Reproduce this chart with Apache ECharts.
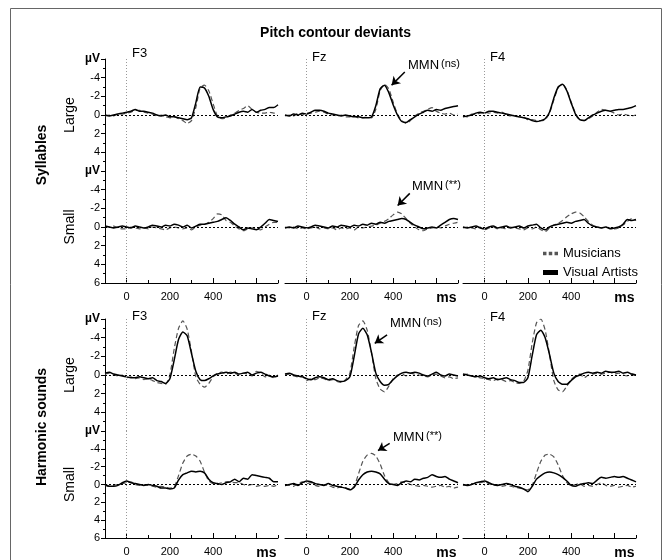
<!DOCTYPE html>
<html>
<head>
<meta charset="utf-8">
<title>Pitch contour deviants</title>
<script src="https://cdn.jsdelivr.net/npm/echarts@6/dist/echarts.min.js"></script>
<style>
  html, body { margin: 0; padding: 0; background: #fff; }
  #chart { width: 671px; height: 560px; }
</style>
</head>
<body>
<div id="chart"></div>
<script>
// sample times in ms
var times = [-100,-80,-60,-40,-20,0,20,40,60,80,100,120,140,160,180,200,220,240,260,280,300,
  320,340,360,380,400,420,440,460,480,500,520,540,560,580,600,620,640,660,680,700];

// amplitudes in µV (negative is drawn upwards)
// Syllables - Large
var sylLargeF3_va  = [0.0,0.1,0.0,-0.1,-0.2,-0.3,-0.4,-0.6,-0.4,-0.4,-0.3,-0.2,0.0,0.1,0.0,0.2,0.2,0.3,0.4,0.5,0.3,-1.3,-3.0,-2.9,-2.0,-0.6,0.2,0.3,0.2,0.1,-0.1,-0.3,-0.4,-0.3,-0.6,-0.3,-0.5,-0.6,-0.8,-0.8,-1.1];
var sylLargeF3_mus = [0.1,0.0,0.1,-0.1,-0.1,-0.2,-0.3,-0.5,-0.5,-0.3,-0.2,-0.1,0.1,0.0,0.2,0.3,0.2,0.4,0.6,0.9,0.6,-0.8,-2.9,-3.2,-2.6,-1.2,0.1,0.4,0.3,0.0,-0.2,-0.5,-0.7,-1.0,-0.6,-0.3,-0.2,-0.2,-0.3,-0.2,-0.2];
var sylLargeFz_va  = [0.0,0.1,-0.1,0.0,-0.2,-0.1,-0.3,-0.5,-0.5,-0.4,-0.2,-0.1,0.0,0.1,0.0,0.1,0.2,0.2,0.3,0.3,0.2,-1.0,-2.8,-3.2,-2.4,-1.1,0.0,0.7,0.8,0.5,0.2,-0.1,-0.3,-0.5,-0.4,-0.6,-0.5,-0.7,-0.8,-0.9,-1.0];
var sylLargeFz_mus = [0.1,0.0,0.1,-0.2,0.0,-0.2,-0.2,-0.3,-0.4,-0.3,-0.1,0.0,0.1,0.0,0.2,0.2,0.1,0.3,0.3,0.2,0.3,-0.6,-2.6,-3.3,-2.8,-1.4,-0.1,0.6,0.9,0.6,0.1,-0.2,-0.4,-0.6,-0.8,-0.4,-0.2,-0.1,-0.2,0.0,-0.1];
var sylLargeF4_va  = [0.2,0.1,0.0,-0.2,-0.3,-0.2,-0.4,-0.4,-0.3,-0.2,-0.1,0.0,0.1,0.2,0.3,0.4,0.6,0.7,0.6,0.4,-0.3,-1.8,-3.0,-3.3,-2.6,-1.3,-0.1,0.5,0.6,0.3,0.0,-0.2,-0.4,-0.5,-0.4,-0.5,-0.6,-0.6,-0.7,-0.8,-1.0];
var sylLargeF4_mus = [0.1,0.2,-0.1,-0.1,-0.2,-0.3,-0.2,-0.3,-0.2,-0.3,0.0,0.1,0.0,0.2,0.2,0.5,0.5,0.6,0.6,0.5,-0.2,-1.6,-2.9,-3.3,-2.7,-1.4,-0.2,0.5,0.6,0.4,0.1,-0.3,-0.6,-0.5,-0.4,-0.2,0.0,-0.1,0.0,0.1,0.0];
// Syllables - Small
var sylSmallF3_va  = [-0.1,0.0,0.1,0.0,-0.1,0.0,0.1,-0.1,0.0,0.1,0.0,-0.2,-0.1,0.0,-0.2,-0.1,-0.3,-0.2,0.0,-0.2,0.1,-0.1,-0.3,-0.3,-0.4,-0.5,-0.6,-0.8,-1.0,-0.7,-0.3,0.0,0.3,0.1,0.2,0.3,0.0,-0.4,-0.8,-0.7,-0.6];
var sylSmallF3_mus = [0.0,0.0,-0.1,0.1,0.2,0.2,0.0,0.1,0.2,0.1,0.2,0.0,0.1,0.2,0.3,0.1,0.0,0.1,0.2,0.1,0.3,0.0,-0.2,-0.3,-0.5,-0.9,-1.4,-1.3,-0.7,-0.5,-0.1,0.2,0.4,0.2,0.1,0.2,0.3,0.0,-0.3,-0.5,-0.5];
var sylSmallFz_va  = [0.1,0.0,0.1,-0.1,0.0,0.1,0.0,-0.2,-0.1,0.0,0.1,-0.1,0.0,-0.2,-0.1,0.0,-0.2,-0.1,-0.3,-0.2,-0.4,-0.3,-0.5,-0.4,-0.6,-0.7,-0.8,-0.9,-0.8,-0.5,-0.2,0.0,0.2,0.1,0.0,0.1,-0.2,-0.5,-0.8,-0.9,-0.8];
var sylSmallFz_mus = [0.0,0.1,0.0,0.2,0.1,0.2,0.1,0.0,0.2,0.1,0.2,0.1,0.3,0.1,0.2,0.1,0.3,0.0,0.1,0.0,-0.1,-0.2,-0.4,-0.6,-0.9,-1.3,-1.6,-1.4,-0.9,-0.4,0.0,0.3,0.4,0.2,0.1,0.0,0.1,-0.1,-0.3,-0.4,-0.5];
var sylSmallF4_va  = [0.0,0.1,0.0,-0.1,0.1,0.2,0.0,-0.1,0.1,0.0,-0.1,0.1,0.0,-0.1,0.1,-0.1,-0.2,-0.3,0.1,0.3,0.0,-0.2,-0.3,-0.4,-0.5,-0.4,-0.6,-0.7,-0.8,-0.4,-0.1,0.0,0.1,0.0,0.2,0.1,0.0,-0.3,-0.8,-0.7,-0.8];
var sylSmallF4_mus = [0.1,0.0,0.1,0.2,0.0,0.3,0.1,0.0,0.2,0.1,0.2,0.0,0.1,0.2,0.3,0.1,0.2,0.0,0.3,0.5,0.1,-0.2,-0.4,-0.7,-1.1,-1.4,-1.6,-1.5,-1.1,-0.6,-0.2,0.0,0.1,0.0,0.1,0.2,0.1,-0.2,-0.6,-0.9,-0.7];
// Harmonic sounds - Large
var harLargeF3_va  = [-0.2,-0.3,-0.1,0.0,0.1,0.2,0.3,0.3,0.2,0.3,0.4,0.3,0.6,0.7,0.9,0.4,-1.6,-3.8,-4.6,-4.2,-2.3,-0.4,0.5,0.6,0.4,0.1,-0.1,-0.2,-0.3,-0.2,-0.3,-0.1,-0.2,-0.3,0.0,-0.2,-0.3,-0.1,0.1,0.2,0.1];
var harLargeF3_mus = [-0.1,-0.2,0.0,0.1,0.0,0.3,0.2,0.4,0.3,0.5,0.4,0.6,0.8,0.9,1.0,0.0,-2.8,-5.0,-5.8,-4.9,-2.5,0.2,1.0,1.3,0.9,0.2,-0.2,-0.3,-0.1,-0.3,-0.2,0.0,-0.2,-0.1,0.1,-0.4,-0.2,0.2,0.0,0.3,0.0];
var harLargeFz_va  = [-0.1,-0.2,0.0,0.1,0.2,0.4,0.5,0.3,0.2,0.3,0.5,0.4,0.6,0.7,0.6,0.2,-2.0,-4.4,-5.0,-4.3,-2.4,-0.2,0.7,1.1,1.0,0.5,0.1,-0.2,-0.3,-0.2,-0.3,-0.2,0.0,0.1,-0.1,-0.3,0.0,0.1,-0.1,0.0,0.1];
var harLargeFz_mus = [0.0,-0.1,0.1,0.2,0.1,0.6,0.4,0.5,0.3,0.4,0.6,0.5,0.7,0.8,0.5,-0.2,-3.0,-5.3,-5.8,-4.8,-2.4,0.4,1.5,1.8,1.2,0.4,0.0,-0.1,0.1,-0.2,-0.1,0.0,0.1,0.2,0.0,-0.1,0.1,0.3,0.2,0.4,0.3];
var harLargeF4_va  = [-0.1,0.0,0.1,0.2,0.1,0.3,0.4,0.3,0.5,0.4,0.3,0.5,0.6,0.8,0.8,0.3,-2.1,-4.3,-4.8,-4.0,-2.2,-0.2,0.7,1.0,1.0,0.6,0.2,0.0,-0.2,-0.3,-0.2,-0.3,-0.2,-0.4,-0.3,-0.3,-0.4,-0.2,-0.3,-0.1,0.0];
var harLargeF4_mus = [0.0,-0.1,0.1,0.2,0.3,0.4,0.5,0.6,0.4,0.5,0.7,0.6,0.8,0.9,0.7,-0.5,-3.4,-5.6,-6.0,-4.8,-2.2,0.6,1.6,1.8,1.2,0.5,0.1,-0.1,0.3,0.0,-0.1,-0.2,-0.1,-0.2,-0.3,-0.1,-0.2,0.0,0.1,-0.1,0.1];
// Harmonic sounds - Small
var harSmallF3_va  = [0.0,0.2,0.2,0.1,-0.2,-0.4,-0.2,-0.1,0.0,0.1,0.0,0.1,0.2,0.4,0.4,0.5,0.4,-0.5,-1.1,-1.3,-1.5,-1.4,-1.5,-1.3,-0.6,-0.2,-0.1,0.0,-0.2,-0.3,-0.6,-0.3,-0.7,-0.6,-1.1,-1.0,-0.9,-0.8,-0.7,-0.3,-0.3];
var harSmallF3_mus = [0.1,0.2,0.1,0.0,-0.1,-0.2,-0.3,0.0,0.1,0.0,0.1,0.2,0.3,0.2,0.3,0.4,0.3,-1.0,-2.4,-3.2,-3.4,-3.2,-2.6,-1.4,-0.4,-0.1,-0.1,-0.2,-0.3,-0.3,-0.2,-0.2,0.0,0.1,0.0,0.2,0.1,0.2,0.1,0.2,0.0];
var harSmallFz_va  = [0.1,0.0,-0.1,0.1,-0.2,-0.4,-0.3,-0.1,0.0,0.1,-0.1,0.1,0.2,0.3,0.4,0.6,0.3,-0.5,-1.1,-1.4,-1.5,-1.4,-1.2,-0.6,-0.1,0.0,0.1,-0.2,-0.4,-0.3,-0.6,-0.5,-0.7,-0.8,-1.1,-0.9,-0.8,-0.9,-0.6,-0.4,-0.2];
var harSmallFz_mus = [0.0,0.1,0.2,-0.1,-0.3,-0.1,-0.2,0.1,0.2,0.0,0.1,0.3,0.4,0.2,0.4,0.5,0.2,-1.2,-2.6,-3.3,-3.5,-3.2,-2.3,-1.0,-0.2,0.0,-0.1,-0.3,-0.2,0.0,0.1,0.2,0.1,0.2,0.3,0.2,0.1,0.3,0.2,0.4,0.3];
var harSmallF4_va  = [0.0,0.1,0.0,-0.2,-0.3,-0.4,-0.2,0.0,0.1,0.0,-0.1,0.0,0.2,0.3,0.5,0.8,0.2,-0.6,-1.0,-1.3,-1.4,-1.3,-1.1,-0.8,-0.4,0.1,0.2,0.0,-0.1,-0.2,-0.1,-0.5,-0.8,-0.7,-0.8,-0.9,-0.8,-0.9,-0.7,-0.5,-0.3];
var harSmallF4_mus = [0.1,0.0,-0.1,-0.1,-0.2,-0.3,-0.1,0.1,0.0,0.2,0.1,0.2,0.3,0.4,0.5,0.6,0.1,-1.3,-2.6,-3.3,-3.4,-3.1,-2.2,-1.0,-0.2,0.1,0.0,-0.1,0.2,0.1,0.2,0.0,-0.2,0.1,0.2,0.1,0.3,0.2,0.1,0.3,0.2];

var electrodes = ['F3', 'Fz', 'F4'];
var rowNames = ['Large', 'Small', 'Large', 'Small'];
var xLabelTicks = [0, 200, 400, 600];
var xMinorTicks = [100, 300, 500, 700];
// MMN arrows on the Fz panels: [tail ms, tail µV, head ms, head µV]
var mmnArrows = [[454, -4.6, 393, -3.2], [477, -3.6, 421, -2.3], [372, -4.3, 315, -3.4], [384, -4.6, 330, -3.8]];
var mmnSig = ['(ns)', '(**)', '(ns)', '(**)'];

var panelVA = [
  [sylLargeF3_va, sylLargeFz_va, sylLargeF4_va],
  [sylSmallF3_va, sylSmallFz_va, sylSmallF4_va],
  [harLargeF3_va, harLargeFz_va, harLargeF4_va],
  [harSmallF3_va, harSmallFz_va, harSmallF4_va]
];
var panelMus = [
  [sylLargeF3_mus, sylLargeFz_mus, sylLargeF4_mus],
  [sylSmallF3_mus, sylSmallFz_mus, sylSmallF4_mus],
  [harLargeF3_mus, harLargeFz_mus, harLargeF4_mus],
  [harSmallF3_mus, harSmallFz_mus, harSmallF4_mus]
];

var FONT = 'Liberation Sans, Arial, sans-serif';
var colLeft = [105, 285, 463];
var colW = 173;
var rowTop = [59, 171, 319, 431];
var rowH = 112;

function pairs(vals) {
  return times.map(function (t, i) { return [t, vals[i]]; });
}

var grids = [], xAxes = [], yAxes = [], series = [];

for (var r = 0; r < 4; r++) {
  for (var c = 0; c < 3; c++) {
    var g = grids.length;
    var small = (r % 2 === 1);
    grids.push({ left: colLeft[c], top: rowTop[r], width: colW, height: rowH });

    yAxes.push({
      gridIndex: g, type: 'value', min: -6, max: 6, interval: 2, inverse: true,
      show: c === 0,
      axisLine: { show: true, onZero: false, lineStyle: { color: '#000', width: 1 } },
      axisTick: { show: true, length: 4, lineStyle: { color: '#000' } },
      minorTick: { show: true, splitNumber: 2, length: 2, lineStyle: { color: '#000' } },
      splitLine: { show: false },
      axisLabel: {
        fontSize: 11, color: '#000', margin: 5, fontFamily: FONT,
        formatter: (function (sm) {
          return function (v) {
            if (v === -6) return '{u|µV}';
            if (v === 6) return sm ? '6' : '';
            return String(v);
          };
        })(small),
        rich: { u: { fontWeight: 'bold', fontSize: 12, fontFamily: FONT } }
      },
      name: rowNames[r], nameLocation: 'middle', nameRotate: 90, nameGap: 28,
      nameTextStyle: { fontSize: 14, color: '#000', fontFamily: FONT }
    });

    var xi = xAxes.length;
    xAxes.push({
      gridIndex: g, type: 'value', min: -100, max: 700, interval: 100,
      show: small, position: 'bottom',
      axisLine: { onZero: false, lineStyle: { color: '#000', width: 1 } },
      axisTick: { inside: true, length: 5, customValues: xLabelTicks, lineStyle: { color: '#000' } },
      axisLabel: {
        customValues: xLabelTicks, fontSize: 11, color: '#000', margin: 8, fontFamily: FONT,
        formatter: function (v) { return v === 600 ? '{ms|ms}' : String(v); },
        rich: { ms: { fontWeight: 'bold', fontSize: 14, padding: [0, 0, 0, 20], fontFamily: FONT } }
      },
      splitLine: { show: false }
    });
    if (small) {
      xAxes.push({
        gridIndex: g, type: 'value', min: -100, max: 700, interval: 100, position: 'bottom',
        axisLine: { show: false, onZero: false },
        axisTick: { inside: true, length: 3, customValues: xMinorTicks, lineStyle: { color: '#000' } },
        axisLabel: { show: false },
        splitLine: { show: false }
      });
    }

    var marks = [
      { yAxis: 0, lineStyle: { color: '#000', type: [2, 2], width: 1 } },
      { xAxis: 0, lineStyle: { color: '#999', type: [1, 2], width: 1 } }
    ];
    if (c === 1) {
      var a = mmnArrows[r];
      marks.push([
        { coord: [a[0], a[1]], symbol: 'none', lineStyle: { color: '#000', width: 1.5, type: 'solid' } },
        { coord: [a[2], a[3]], symbol: 'arrow', symbolSize: 8, lineStyle: { color: '#000', width: 1.5, type: 'solid' } }
      ]);
    }

    series.push({
      type: 'line', name: 'Musicians', xAxisIndex: xi, yAxisIndex: g,
      data: pairs(panelMus[r][c]), showSymbol: false, smooth: 0.2, silent: true,
      lineStyle: { color: '#555', width: 1.2, type: [5, 3] }, itemStyle: { color: '#555' }
    });
    series.push({
      type: 'line', name: 'Visual Artists', xAxisIndex: xi, yAxisIndex: g,
      data: pairs(panelVA[r][c]), showSymbol: false, smooth: 0.2, silent: true,
      lineStyle: { color: '#000', width: 1.5 }, itemStyle: { color: '#000' },
      markLine: { silent: true, symbol: 'none', label: { show: false }, animation: false, data: marks }
    });
  }
}

var graphics = [
  { type: 'rect', shape: { x: 10.5, y: 8.5, width: 651, height: 560 }, style: { fill: 'none', stroke: '#666', lineWidth: 1 } },
  { type: 'text', x: 42, y: 155, rotation: Math.PI / 2,
    style: { text: 'Syllables', font: 'bold 14px ' + FONT, fill: '#000', align: 'center', verticalAlign: 'middle' } },
  { type: 'text', x: 42, y: 427, rotation: Math.PI / 2,
    style: { text: 'Harmonic sounds', font: 'bold 14px ' + FONT, fill: '#000', align: 'center', verticalAlign: 'middle' } }
];
var electrodeTop = [[47, 51, 51], [310, 310, 311]];
[0, 2].forEach(function (r, k) {
  for (var c = 0; c < 3; c++) {
    graphics.push({ type: 'text', left: colLeft[c] + 27, top: electrodeTop[k][c],
      style: { text: electrodes[c], font: '13px ' + FONT, fill: '#000' } });
  }
});
var mmnPos = [[408, 58], [412, 179], [390, 316], [393, 430]];
for (var m = 0; m < 4; m++) {
  graphics.push({ type: 'text', left: mmnPos[m][0], top: mmnPos[m][1],
    style: { text: '{a|MMN}{b|' + mmnSig[m] + '}', fill: '#000',
      rich: { a: { fontSize: 13, fontFamily: FONT }, b: { fontSize: 11, fontFamily: FONT, padding: [0, 0, 3, 2] } } } });
}

var chart = echarts.init(document.getElementById('chart'));
chart.setOption({
  animation: false,
  backgroundColor: '#fff',
  textStyle: { fontFamily: FONT },
  title: { text: 'Pitch contour deviants', left: 'center', top: 21,
    textStyle: { fontSize: 14, fontWeight: 'bold', color: '#000', fontFamily: FONT } },
  legend: {
    orient: 'vertical', left: 538, top: 242, itemWidth: 15, itemHeight: 5, itemGap: 6,
    selectedMode: false, textStyle: { fontSize: 13, color: '#000', fontFamily: FONT },
    data: [
      { name: 'Musicians', icon: 'path://M0 0h3v3H0z M5 0h3v3H5z M10 0h3v3h-3z', itemStyle: { color: '#555' } },
      { name: 'Visual Artists', icon: 'rect', itemStyle: { color: '#000' } }
    ]
  },
  grid: grids,
  xAxis: xAxes,
  yAxis: yAxes,
  series: series,
  graphic: graphics
});
</script>
</body>
</html>
